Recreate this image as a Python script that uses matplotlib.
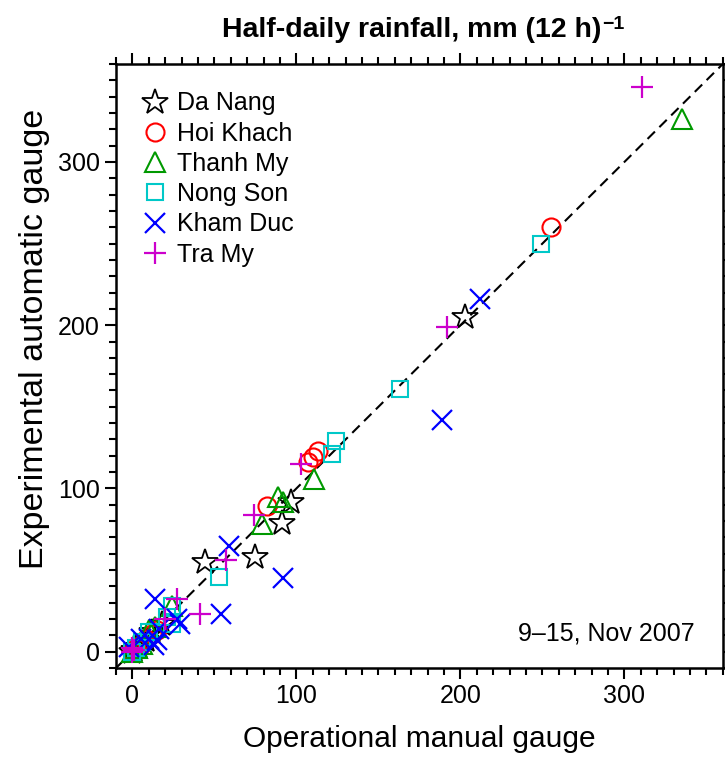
import matplotlib
matplotlib.use("Agg")
import matplotlib.pyplot as plt
from matplotlib.ticker import MultipleLocator

# ---- data (manual gauge, automatic gauge), mm per 12 h ----
danang_x = [203, 97, 91, 75, 44, 18, 12, 8, 4, 1, 0]
danang_y = [205, 92, 79, 58, 55, 17, 12, 7, 3, 1, 0]

hoikhach_x = [255, 113, 110, 107, 82, 15, 12, 8, 5, 2, 0]
hoikhach_y = [260, 123, 119, 116, 89, 13, 11, 8, 4, 2, 0]

thanhmy_x = [335, 111, 92, 89, 79, 24, 14, 10, 6, 3, 0]
thanhmy_y = [326, 106, 92, 95, 78, 28, 15, 13, 5, 2, 0]

nongson_x = [249, 163, 124, 122, 53, 24, 21, 24, 10, 6, 2, 0]
nongson_y = [250, 161, 129, 121, 46, 28, 21, 17, 12, 6, 2, 0]

khamduc_x = [212, 189, 92, 59, 54, 14, 27, 29, 15, 13, 10, 5, -2, 16]
khamduc_y = [216, 142, 45, 65, 23, 32, 20, 17, 7, 4, 8, 8, 3, 14]

tramy_x = [311, 192, 103, 74, 57, 41, 27, 20, 1, 0, 0]
tramy_y = [346, 199, 115, 84, 56, 23, 32, 20, 1, 0, 2]

station_names = ["Da Nang", "Hoi Khach", "Thanh My", "Nong Son", "Kham Duc", "Tra My"]

plt.rcParams['font.family'] = ['Liberation Sans', 'DejaVu Sans']

fig = plt.figure(figsize=(7.25, 7.58), dpi=100)
ax = fig.add_axes([0.16, 0.1187, 0.837, 0.7969])

lims = [-10, 360]
ax.plot(lims, lims, color='black', lw=1.5, dashes=(5, 3), zorder=1)

series = [
    (danang_x, danang_y, '*', 'black', 19, 1.3),
    (hoikhach_x, hoikhach_y, 'o', 'red', 13, 1.5),
    (thanhmy_x, thanhmy_y, '^', '#009900', 14, 1.5),
    (nongson_x, nongson_y, 's', '#00c8c8', 12, 1.5),
    (khamduc_x, khamduc_y, 'x', 'blue', 14, 1.6),
    (tramy_x, tramy_y, '+', '#cc00cc', 16, 1.6),
]
for (xs, ys, m, c, ms, mew), name in zip(series, station_names):
    if m in ('x', '+'):
        ax.plot(xs, ys, linestyle='none', marker=m, color=c, ms=ms, mew=mew, label=name, zorder=3)
    else:
        ax.plot(xs, ys, linestyle='none', marker=m, mfc='none', mec=c, ms=ms, mew=mew, label=name, zorder=3)

ax.set_xlim(lims)
ax.set_ylim(lims)
ax.xaxis.set_major_locator(MultipleLocator(100))
ax.yaxis.set_major_locator(MultipleLocator(100))
ax.xaxis.set_minor_locator(MultipleLocator(10))
ax.yaxis.set_minor_locator(MultipleLocator(10))
ax.tick_params(which='both', direction='out', top=True, right=True, width=1.5, labelsize=18)
ax.tick_params(which='major', length=8)
ax.tick_params(which='minor', length=5)
for s in ax.spines.values():
    s.set_linewidth(1.8)

ax.set_xlabel("Operational manual gauge", fontsize=21.5, labelpad=12)
ax.set_ylabel("Experimental automatic gauge", fontsize=24.5)
ax.yaxis.set_label_coords(-0.108, 0.545)

title_fam = ['Liberation Sans Narrow', 'Liberation Sans']
t_main = fig.text(0.5675, 0.961, "Half-daily rainfall, mm (12 h)", ha='center', va='center',
                  fontsize=20.5, fontweight='bold', family=title_fam)
fig.canvas.draw()
bb = t_main.get_window_extent()
fig.text(bb.x1 / fig.bbox.width + 0.002, (bb.y1 + 1) / fig.bbox.height, "\u22121", ha='left', va='top',
         fontsize=14, fontweight='bold', family=title_fam)

ax.text(0.953, 0.038, "9\u201315, Nov 2007", transform=ax.transAxes, ha='right', va='bottom', fontsize=18)

leg = ax.legend(loc='upper left', bbox_to_anchor=(-0.006, 1.0), frameon=False, fontsize=18,
                handletextpad=0.3, labelspacing=0.25, borderaxespad=0.7, handlelength=1.2)

fig.savefig("out.png", dpi=100)
